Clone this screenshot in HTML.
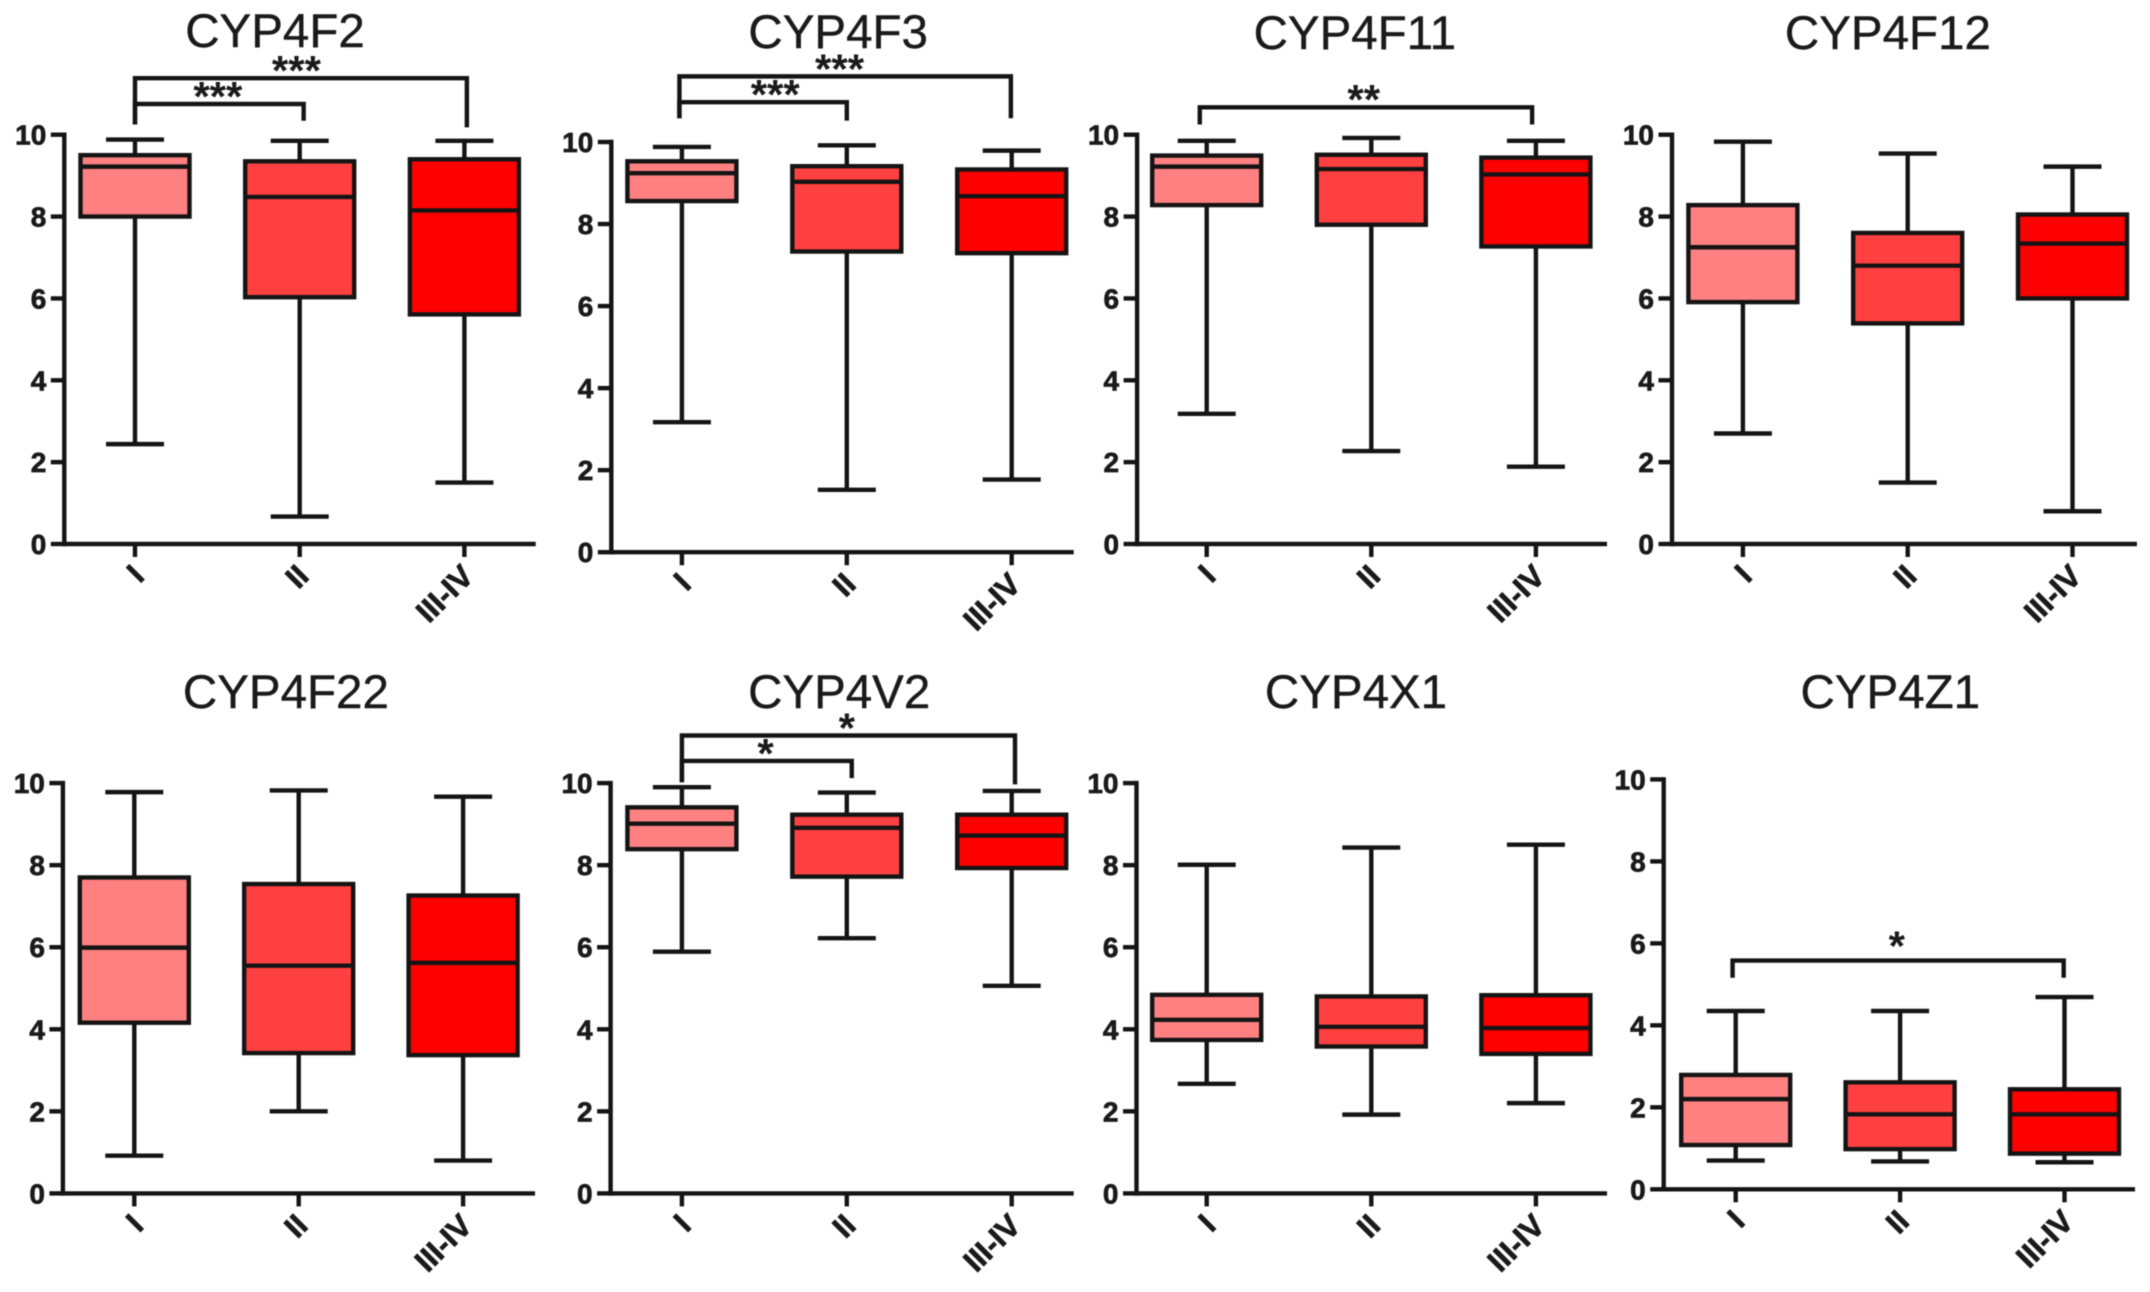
<!DOCTYPE html>
<html lang="en">
<head>
<meta charset="utf-8">
<title>CYP4 family expression by tumour stage</title>
<style>
  html, body { margin: 0; padding: 0; background: #ffffff; }
  #figure { display: block; width: 2150px; height: 1292px; background: #ffffff; filter: blur(0.5px); }
  text { font-family: "Liberation Sans", Arial, sans-serif; fill: #1a1a1a; }
  .title { font-size: 47.5px; text-anchor: middle; stroke: #1a1a1a; stroke-width: 0.4px; }
  .ytick { font-size: 28px; font-weight: bold; text-anchor: end; stroke: #1a1a1a; stroke-width: 0.7px; }
  .xtick { font-size: 31px; font-weight: bold; text-anchor: end; stroke: #1a1a1a; stroke-width: 0.7px; }
  .star { font-size: 42px; font-weight: bold; text-anchor: middle; }
</style>
</head>
<body>
<svg id="figure" xmlns="http://www.w3.org/2000/svg" width="2150" height="1292" viewBox="0 0 2150 1292"></svg>
<script>
// ---- chart data ----
const panelTitles = ['CYP4F2', 'CYP4F3', 'CYP4F11', 'CYP4F12', 'CYP4F22', 'CYP4V2', 'CYP4X1', 'CYP4Z1'];
const categories = ['I', 'II', 'III-IV'];
const yTickValues = [0, 2, 4, 6, 8, 10];
const yTickLabels = ['0', '2', '4', '6', '8', '10'];

const whiskerHigh = [
  [9.88, 9.85, 9.85],
  [9.88, 9.92, 9.79],
  [9.85, 9.92, 9.85],
  [9.83, 9.54, 9.22],
  [9.78, 9.82, 9.67],
  [9.90, 9.77, 9.81],
  [8.01, 8.43, 8.50],
  [4.35, 4.35, 4.69]
];
const boxQ3 = [
  [9.50, 9.35, 9.40],
  [9.53, 9.41, 9.33],
  [9.49, 9.51, 9.44],
  [8.28, 7.60, 8.05],
  [7.70, 7.54, 7.26],
  [9.41, 9.23, 9.23],
  [4.84, 4.80, 4.83],
  [2.79, 2.61, 2.44]
];
const boxMedian = [
  [9.22, 8.48, 8.15],
  [9.24, 9.03, 8.68],
  [9.22, 9.16, 9.03],
  [7.25, 6.80, 7.34],
  [5.99, 5.55, 5.62],
  [9.01, 8.91, 8.72],
  [4.23, 4.06, 4.03],
  [2.20, 1.83, 1.83]
];
const boxQ1 = [
  [8.00, 6.03, 5.61],
  [8.56, 7.33, 7.29],
  [8.28, 7.80, 7.27],
  [5.91, 5.39, 6.00],
  [4.16, 3.42, 3.37],
  [8.39, 7.72, 7.93],
  [3.74, 3.58, 3.40],
  [1.08, 0.98, 0.87]
];
const whiskerLow = [
  [2.44, 0.67, 1.50],
  [3.17, 1.52, 1.77],
  [3.18, 2.27, 1.89],
  [2.70, 1.50, 0.80],
  [0.92, 2.00, 0.80],
  [5.89, 6.22, 5.06],
  [2.67, 1.92, 2.20],
  [0.70, 0.68, 0.66]
];

// Significance brackets, in data units: category index (x) and axis value (y)
const bracketPanel  = [0, 0, 1, 1, 2, 5, 5, 7];
const bracketFrom   = [0, 0, -0.015, -0.015, -0.042, 0, 0, -0.019];
const bracketTo     = [2.015, 1.024, 1.995, 1.0, 1.977, 2.02, 1.03, 1.995];
const bracketLevel  = [11.38, 10.75, 11.6, 10.97, 10.67, 11.16, 10.54, 5.58];
const bracketLegL   = [10.25, 10.25, 10.58, 10.58, 10.25, 10.02, 10.02, 5.16];
const bracketLegR   = [10.18, 10.34, 10.58, 10.52, 10.25, 9.97, 10.12, 5.16];
const bracketLabels = ['***', '***', '***', '***', '**', '*', '*', '*'];
const bracketLabelAt = [0.98, 0.503, 0.956, 0.566, 0.954, 1.0, 0.507, 0.98];
const bracketLabelLift = [0.1, 0.1, 0.1, 0.1, 0.1, 0.1, 0.1, 0.27];

// ---- page layout, kept apart from the data ----
const layout = [
  { axisX: 64.3,   y0: 544,    y10: 134.7, right: 535.7,  cat0: 135,    step: 164.7, titleX: 275,    titleY: 47 },
  { axisX: 611.3,  y0: 552.2,  y10: 142,   right: 1073.7, cat0: 681.9,  step: 164.9, titleX: 838.2,  titleY: 48 },
  { axisX: 1137.1, y0: 544,    y10: 134.7, right: 1607,   cat0: 1206.7, step: 164.6, titleX: 1354.8, titleY: 49 },
  { axisX: 1672,   y0: 544,    y10: 134.7, right: 2136.9, cat0: 1742.9, step: 164.8, titleX: 1887.9, titleY: 49 },
  { axisX: 62.9,   y0: 1193.4, y10: 783.1, right: 535,    cat0: 134.3,  step: 164.4, titleX: 285.9,  titleY: 708 },
  { axisX: 610.6,  y0: 1193.4, y10: 783.1, right: 1073.7, cat0: 681.9,  step: 164.9, titleX: 839.2,  titleY: 708 },
  { axisX: 1136.5, y0: 1193.4, y10: 783.1, right: 1607,   cat0: 1206.7, step: 164.6, titleX: 1356,   titleY: 708 },
  { axisX: 1663.7, y0: 1189.3, y10: 779.4, right: 2135,   cat0: 1735.7, step: 164.4, titleX: 1890.3, titleY: 708 }
];
const seriesFills = ['#ff8080', '#ff4040', '#ff0000'];
const INK = '#141414';
const STROKE = 4.4;
const TICK = 13.5;
const BOX_HALF = 54.5;
const CAP_HALF = 29;

const SVG_NS = 'http://www.w3.org/2000/svg';
const figure = document.getElementById('figure');

function make(tag, parent, attrs) {
  const el = document.createElementNS(SVG_NS, tag);
  for (const k in attrs) el.setAttribute(k, attrs[k]);
  parent.appendChild(el);
  return el;
}
function line(parent, x1, y1, x2, y2) {
  return make('line', parent, { x1: x1, y1: y1, x2: x2, y2: y2, stroke: INK, 'stroke-width': STROKE, 'stroke-linecap': 'butt' });
}
function scaleY(p, v) {
  const g = layout[p];
  return g.y0 + (g.y10 - g.y0) * (v / 10);
}
function scaleX(p, c) {
  const g = layout[p];
  return g.cat0 + g.step * c;
}

panelTitles.forEach(function (name, p) {
  const g = layout[p];
  const slug = name.toLowerCase();

  const panel = make('g', figure, {});
  
  

  const title = make('text', panel, { x: g.titleX, y: g.titleY, class: 'title' });
  title.textContent = name;
  
  

  // boxes and whiskers
  categories.forEach(function (cat, c) {
    const x = scaleX(p, c);
    const group = make('g', panel, {});
    
    

    const stem = line(group, x, scaleY(p, whiskerHigh[p][c]), x, scaleY(p, whiskerLow[p][c]));
    
    

    const capHigh = line(group, x - CAP_HALF, scaleY(p, whiskerHigh[p][c]), x + CAP_HALF, scaleY(p, whiskerHigh[p][c]));
    
    

    const capLow = line(group, x - CAP_HALF, scaleY(p, whiskerLow[p][c]), x + CAP_HALF, scaleY(p, whiskerLow[p][c]));
    
    

    const top = scaleY(p, boxQ3[p][c]);
    const bottom = scaleY(p, boxQ1[p][c]);
    const box = make('rect', group, {
      x: x - BOX_HALF, y: top, width: BOX_HALF * 2, height: bottom - top,
      fill: seriesFills[c], stroke: INK, 'stroke-width': STROKE
    });
    
    

    const med = line(group, x - BOX_HALF, scaleY(p, boxMedian[p][c]), x + BOX_HALF, scaleY(p, boxMedian[p][c]));
    
    
  });

  // y axis
  const yAxis = make('g', panel, {});
  
  
  const yLine = line(yAxis, g.axisX, g.y10 - STROKE / 2, g.axisX, g.y0 + STROKE / 2);
  
  
  yTickValues.forEach(function (v, i) {
    const y = scaleY(p, v);
    const t = line(yAxis, g.axisX - TICK, y, g.axisX, y);
    
    
    const label = make('text', yAxis, { x: g.axisX - 18, y: y + 10, class: 'ytick' });
    label.textContent = yTickLabels[i];
    
    
  });

  // x axis
  const xAxis = make('g', panel, {});
  
  
  const xLine = line(xAxis, g.axisX, g.y0, g.right, g.y0);
  
  
  categories.forEach(function (cat, c) {
    const x = scaleX(p, c);
    const t = line(xAxis, x, g.y0, x, g.y0 + 13);
    
    
    const ax = x + 10.8;
    const ay = g.y0 + 34;
    const label = make('text', xAxis, { x: ax, y: ay, class: 'xtick', transform: 'rotate(-45 ' + ax + ' ' + ay + ')' });
    label.textContent = cat;
    
    
  });
});

// significance brackets
bracketPanel.forEach(function (p, i) {
  const slug = panelTitles[p].toLowerCase();
  const x1 = scaleX(p, bracketFrom[i]);
  const x2 = scaleX(p, bracketTo[i]);
  const yBar = scaleY(p, bracketLevel[i]);
  const yL = scaleY(p, bracketLegL[i]);
  const yR = scaleY(p, bracketLegR[i]);

  const group = make('g', figure, {});
  
  

  const path = make('polyline', group, {
    points: x1 + ',' + yL + ' ' + x1 + ',' + yBar + ' ' + x2 + ',' + yBar + ' ' + x2 + ',' + yR,
    fill: 'none', stroke: INK, 'stroke-width': STROKE
  });
  
  

  const star = make('text', group, { x: scaleX(p, bracketLabelAt[i]), y: scaleY(p, bracketLevel[i] + bracketLabelLift[i]) + 11, class: 'star' });
  star.textContent = bracketLabels[i];
  
  
});
</script>
</body>
</html>
